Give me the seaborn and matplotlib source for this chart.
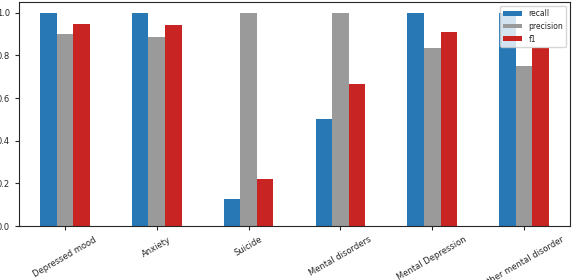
import pandas as pd
import matplotlib
matplotlib.use('Agg')
import matplotlib.pyplot as plt
import seaborn as sns

categories = ['Depressed mood', 'Anxiety', 'Suicide', 'Mental disorders',
              'Mental Depression', 'other mental disorder']
recall = [1.0, 1.0, 0.125, 0.5, 1.0, 1.0]
precision = [0.90, 0.888, 1.0, 1.0, 0.835, 0.748]
f1 = [0.948, 0.943, 0.222, 0.667, 0.91, 0.836]
metrics = ['recall', 'precision', 'f1']
colors = ['#2878b5', '#9a9a9a', '#c82423']

df = pd.DataFrame({'category': categories, 'recall': recall,
                   'precision': precision, 'f1': f1})
long_df = df.melt(id_vars='category', value_vars=metrics,
                  var_name='metric', value_name='score')

sns.set_style('ticks')
plt.rcParams['font.family'] = ['DejaVu Sans']

fig = plt.figure(figsize=(5.72, 2.8), dpi=100)
ax = fig.add_axes([19 / 572, 54 / 280, 551 / 572, 224 / 280])
sns.barplot(data=long_df, x='category', y='score', hue='metric',
            hue_order=metrics, palette=colors, width=0.54,
            saturation=1, linewidth=0, ax=ax)
ax.set_xlim(-0.5, len(categories) - 0.5)
ax.set_ylim(0, 1.05)
ax.set_xlabel('')
ax.set_ylabel('')
ax.tick_params(axis='both', labelsize=6, length=3)
plt.setp(ax.get_xticklabels(), rotation=30, ha='center')
for s in ax.spines.values():
    s.set_visible(True)
    s.set_linewidth(0.8)
leg = ax.legend(loc='upper right', fontsize=5.5, frameon=True,
                handlelength=2.5, handleheight=0.6)
leg.set_title(None)

fig.savefig('out.png', dpi=100)
